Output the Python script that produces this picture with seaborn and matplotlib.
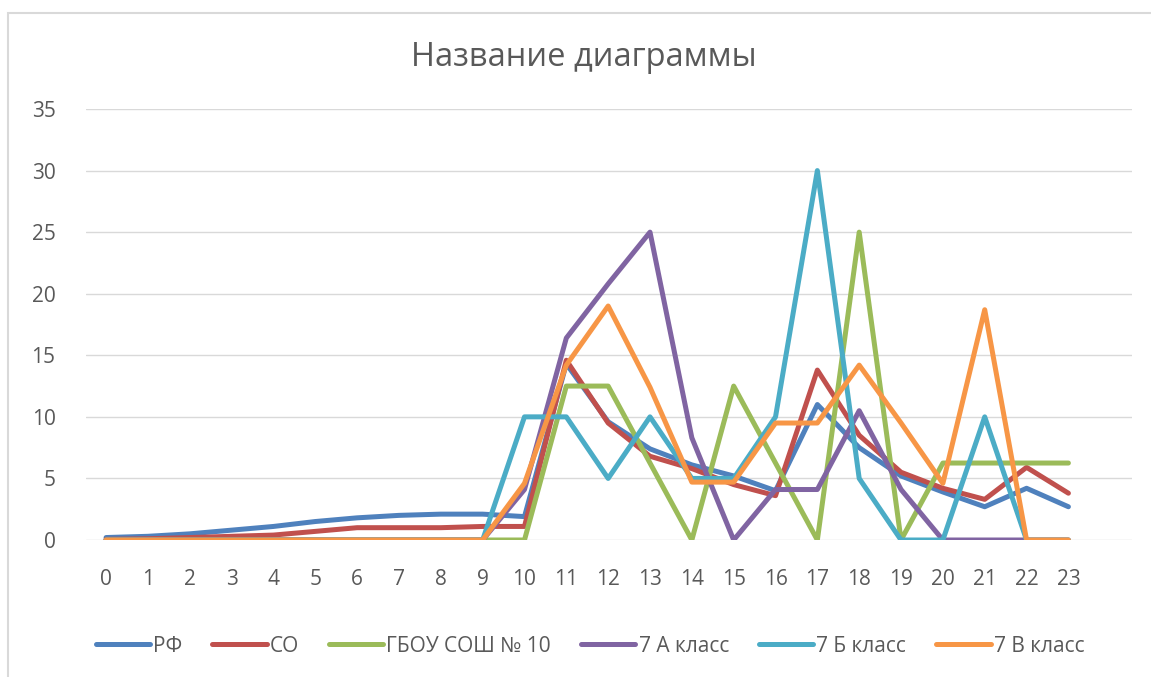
import pandas as pd
import matplotlib.pyplot as plt
import seaborn as sns
from matplotlib.patches import Rectangle
from matplotlib.lines import Line2D

sns.set_style("white")
plt.rcParams['font.family'] = ['Open Sans', 'DejaVu Sans']

# Данные
x = list(range(24))
rf = [0.2, 0.3, 0.5, 0.8, 1.1, 1.5, 1.8, 2.0, 2.1, 2.1, 1.9, 14.3, 9.6, 7.4, 6.1, 5.2, 4.0,
      11.0, 7.5, 5.2, 3.9, 2.7, 4.2, 2.7]
so = [0.05, 0.1, 0.2, 0.3, 0.4, 0.7, 1.0, 1.0, 1.0, 1.1, 1.1, 14.6, 9.5, 6.8, 5.8, 4.5, 3.6,
      13.8, 8.5, 5.5, 4.2, 3.3, 5.9, 3.8]
gbou = [0, 0, 0, 0, 0, 0, 0, 0, 0, 0, 0, 12.5, 12.5, 6.25, 0, 12.5, 6.25,
        0, 25, 0, 6.25, 6.25, 6.25, 6.25]
kl_7a = [0, 0, 0, 0, 0, 0, 0, 0, 0, 0, 4.1, 16.4, 20.8, 25, 8.3, 0, 4.1,
         4.1, 10.5, 4.1, 0, 0, 0, 0]
kl_7b = [0, 0, 0, 0, 0, 0, 0, 0, 0, 0, 10, 10, 5, 10, 5, 5, 10,
         30, 5, 0, 0, 10, 0, 0]
kl_7v = [0, 0, 0, 0, 0, 0, 0, 0, 0, 0, 4.6, 14.2, 19, 12.4, 4.7, 4.7, 9.5,
         9.5, 14.2, 9.5, 4.6, 18.7, 0, 0]

series = ["РФ", "СО", "ГБОУ СОШ № 10", "7 А класс", "7 Б класс", "7 В класс"]
values = [rf, so, gbou, kl_7a, kl_7b, kl_7v]
colors = ["#4F81BD", "#C0504D", "#9BBB59", "#8064A2", "#4BACC6", "#F79646"]

rows = []
for name, vals in zip(series, values):
    for xi, v in zip(x, vals):
        rows.append({"x": xi, "value": v, "series": name})
df = pd.DataFrame(rows)

W, H = 1151, 677
fig = plt.figure(figsize=(W / 100, H / 100), dpi=100)
ax = fig.add_axes([86 / W, (H - 540) / H, (1132 - 86) / W, (540 - 109) / H])

sns.lineplot(data=df, x="x", y="value", hue="series", palette=colors,
             hue_order=series, linewidth=3.6, ax=ax, legend=False, sort=False)

grey = "#595959"
ax.set_xlim(-0.48, 24.52)
ax.set_ylim(0, 35)
ax.set_xticks(x)
ax.set_yticks(range(0, 36, 5))
ax.grid(axis="y", color="#D9D9D9", linewidth=1.0)
ax.set_axisbelow(True)
for s in ax.spines.values():
    s.set_visible(False)
ax.tick_params(axis="both", length=0, labelsize=15, labelcolor=grey)
ax.tick_params(axis="y", pad=22)
ax.tick_params(axis="x", pad=21)
ax.set_xlabel("")
ax.set_ylabel("")

fig.text(584 / W, 1 - 57 / H, "Название диаграммы", ha="center", va="center",
         fontsize=23.5, color=grey)

handles = [Line2D([], [], color=c, linewidth=3.6, solid_capstyle="round") for c in colors]
fig.legend(handles, series, loc="center", bbox_to_anchor=(590 / W, 1 - 646 / H),
           ncol=6, frameon=False, fontsize=15, labelcolor=grey,
           handlelength=2.6, handletextpad=0.15, columnspacing=1.45)

# рамка области диаграммы
fig.patches.append(Rectangle((8 / W, -0.5), 2, 0.5 + 1 - 12.5 / H, transform=fig.transFigure,
                             fill=False, edgecolor="#D9D9D9", linewidth=1.5))

plt.savefig("out.png", dpi=100)
